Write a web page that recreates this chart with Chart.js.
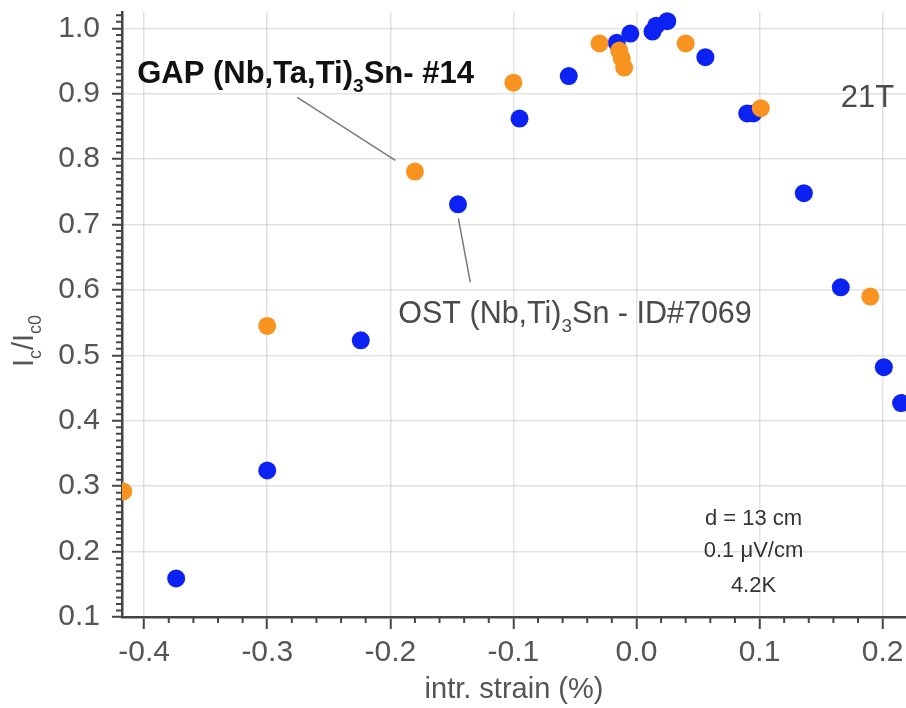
<!DOCTYPE html>
<html><head><meta charset="utf-8">
<script src="https://cdn.jsdelivr.net/npm/chart.js@4"></script>
<style>html,body{margin:0;padding:0;background:#fff}canvas{display:block}</style>
</head><body>
<canvas id="c" width="906" height="708"></canvas>
<script>
// ---- data (intrinsic strain %, Ic/Ic0) ----
const gapStrain = [-0.417, -0.300, -0.180, -0.100, -0.030, -0.014, -0.012, -0.010, 0.040, 0.101, 0.190];
const gapIc     = [ 0.292,  0.545,  0.781,  0.917,  0.977,  0.966,  0.954,  0.940, 0.977, 0.878, 0.590];
const ostStrain = [-0.374, -0.300, -0.224, -0.145, -0.095, -0.055, -0.016, -0.005, 0.013, 0.016, 0.025, 0.056, 0.090, 0.095, 0.136, 0.166, 0.201, 0.215];
const ostIc     = [ 0.159,  0.324,  0.523,  0.731,  0.862,  0.927,  0.978,  0.992, 0.995, 1.004, 1.011, 0.956, 0.870, 0.870, 0.748, 0.604, 0.482, 0.427];
const xRange = [-0.418, 0.219];
const yRange = [0.1, 1.025];
const xTitle = 'intr. strain (%)';
const gapLabel = [{t:'GAP (Nb,Ta,Ti)'},{t:'3',sub:true},{t:'Sn- #14'}];
const ostLabel = [{t:'OST (Nb,Ti)'},{t:'3',sub:true},{t:'Sn - ID#7069'}];
const fieldLabel = '21T';
const condLines = ['d = 13 cm', '0.1 \u03BCV/cm', '4.2K'];
const yTitle = [{t:'I'},{t:'c',sub:true},{t:'/I'},{t:'c0',sub:true}];

// ---- styles ----
const FONT = "'Liberation Sans', Arial, Helvetica, sans-serif";
const AXIS = '#454545';
const TXT = '#555555';
const BLUE = '#0b22f2';
const ORANGE = '#f7931e';

function toPts(xs, ys){ return xs.map((x,i)=>({x:x, y:ys[i]})); }

function richWidth(ctx, segs, size, weight){
  let w=0;
  for(const s of segs){ ctx.font = `${weight} ${s.sub?size*0.62:size}px ${FONT}`; w += ctx.measureText(s.t).width; }
  return w;
}
function drawRich(ctx, x, y, segs, size, weight, color, align){
  const w = richWidth(ctx, segs, size, weight);
  let cx = align==='center' ? x - w/2 : x;
  ctx.fillStyle = color; ctx.textAlign='left'; ctx.textBaseline='alphabetic';
  for(const s of segs){
    const fs = s.sub ? size*0.62 : size;
    ctx.font = `${weight} ${fs}px ${FONT}`;
    ctx.fillText(s.t, cx, s.sub ? y + size*0.28 : y);
    cx += ctx.measureText(s.t).width;
  }
}

const minorTicks = {
  id:'minorTicks',
  afterDraw(chart){
    const ctx=chart.ctx, xs=chart.scales.x, ys=chart.scales.y, a=chart.chartArea;
    ctx.save(); ctx.strokeStyle=AXIS; ctx.lineWidth=2; ctx.beginPath();
    for(let i=-25;i<=15;i++){
      if(i%5===0) continue; const v=i*0.02;
      if(v<xs.min||v>xs.max) continue;
      const px=xs.getPixelForValue(v); ctx.moveTo(px,a.bottom); ctx.lineTo(px,a.bottom+6);
    }
    for(let i=5;i<=105;i++){
      if(i%10===0) continue; const v=i/100;
      if(v<ys.min||v>ys.max) continue;
      const py=ys.getPixelForValue(v); ctx.moveTo(a.left,py); ctx.lineTo(a.left-6,py);
    }
    ctx.stroke(); ctx.restore();
  }
};

const annotations = {
  id:'annotations',
  afterDraw(chart){
    const ctx=chart.ctx, xs=chart.scales.x, ys=chart.scales.y;
    const X=v=>xs.getPixelForValue(v), Y=v=>ys.getPixelForValue(v);
    ctx.save();
    // leader lines
    ctx.strokeStyle='#7a7a7a'; ctx.lineWidth=1.5;
    ctx.beginPath();
    ctx.moveTo(X(-0.2756),Y(0.8945)); ctx.lineTo(X(-0.1959),Y(0.798));
    ctx.moveTo(X(-0.1447),Y(0.7095)); ctx.lineTo(X(-0.135),Y(0.6116));
    ctx.stroke();
    drawRich(ctx, X(-0.4057), Y(0.916), gapLabel, 31, 'bold', '#111', 'left');
    drawRich(ctx, X(-0.1935), Y(0.549), ostLabel, 30.5, 'normal', '#4a4a4a', 'left');
    drawRich(ctx, X(0.1659), Y(0.879), [{t:fieldLabel}], 31, 'normal', '#4a4a4a', 'left');
    const cyv=[0.2401,0.1911,0.1376];
    condLines.forEach((t,i)=>drawRich(ctx, X(0.0951), Y(cyv[i]), [{t:t}], 22, 'normal', '#333', 'center'));
    // y axis title (rotated)
    ctx.translate(33, 341); ctx.rotate(-Math.PI/2);
    drawRich(ctx, 0, 0, yTitle, 29, 'normal', TXT, 'center');
    ctx.restore();
  }
};

function fmt(v){ if(Math.abs(v)<1e-9) v=0; return v.toFixed(1); }

new Chart(document.getElementById('c'), {
  type:'scatter',
  data:{ datasets:[
    { label:'GAP', data: toPts(gapStrain, gapIc), backgroundColor: ORANGE, borderWidth:0, pointRadius:9, pointHoverRadius:9, clip:0, order:0 },
    { label:'OST', data: toPts(ostStrain, ostIc), backgroundColor: BLUE, borderWidth:0, pointRadius:9, pointHoverRadius:9, clip:0, order:1 }
  ]},
  options:{
    responsive:false, animation:false, devicePixelRatio:1,
    layout:{ autoPadding:false, padding:{ top:12, left:0, right:0, bottom:0 } },
    plugins:{ legend:{display:false}, tooltip:{enabled:false} },
    scales:{
      x:{ type:'linear', position:'bottom', min:xRange[0], max:xRange[1],
        ticks:{ stepSize:0.1, includeBounds:false, color:TXT, font:{family:FONT,size:30}, padding:6, maxRotation:0, callback:fmt },
        grid:{ color:'rgba(0,0,0,0.11)', lineWidth:1.5, drawTicks:true, tickLength:12, tickColor:AXIS, tickWidth:2 },
        border:{ color:AXIS, width:2.5 },
        title:{ display:true, text:xTitle, color:TXT, font:{family:FONT,size:29}, padding:{top:0,bottom:1} },
        afterFit(s){ s.height=91; s.paddingLeft=0; s.paddingRight=0; s.paddingTop=0; s.paddingBottom=0; }
      },
      y:{ type:'linear', position:'left', min:yRange[0], max:yRange[1],
        ticks:{ stepSize:0.1, includeBounds:false, color:TXT, font:{family:FONT,size:30}, padding:12, callback:fmt },
        grid:{ color:'rgba(0,0,0,0.11)', lineWidth:1.5, drawTicks:true, tickLength:10, tickColor:AXIS, tickWidth:2 },
        border:{ color:AXIS, width:2.5 },
        afterFit(s){ s.width=122; s.paddingLeft=0; s.paddingRight=0; s.paddingTop=0; s.paddingBottom=0; }
      }
    }
  },
  plugins:[minorTicks, annotations]
});
</script>
</body></html>
